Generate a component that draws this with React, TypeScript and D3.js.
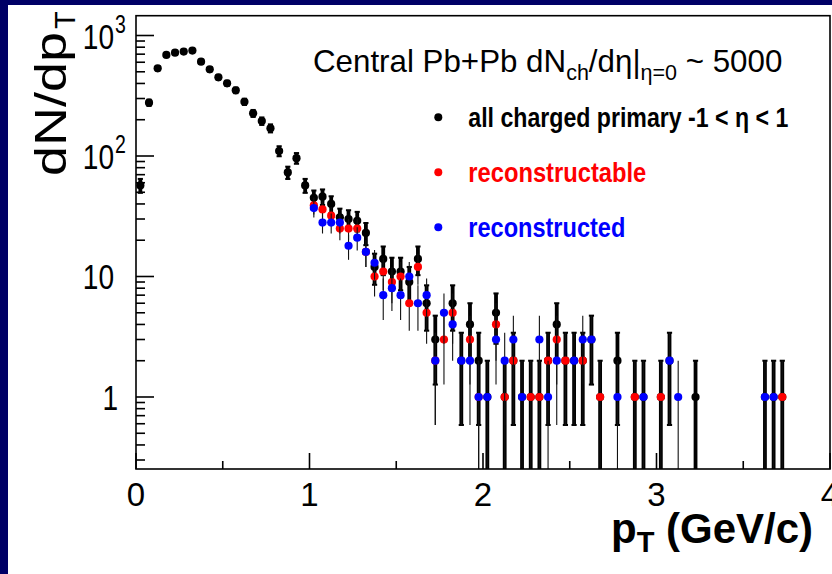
import React from "react";
import * as d3 from "d3";

const W = 832;
const H = 574;

// "all charged primary" (black)
const allPt = [
  0.025, 0.075, 0.125, 0.175, 0.225, 0.275, 0.325, 0.375, 0.425, 0.475,
  0.525, 0.575, 0.625, 0.675, 0.725, 0.775, 0.825, 0.875, 0.925, 0.975,
  1.025, 1.075, 1.125, 1.175, 1.225, 1.275, 1.325, 1.375, 1.425, 1.475,
  1.525, 1.575, 1.625, 1.675, 1.725, 1.825, 1.875, 1.925, 1.975, 2.025,
  2.075, 2.125, 2.175, 2.225, 2.275, 2.325, 2.375, 2.425, 2.475, 2.525,
  2.575, 2.625, 2.675, 2.775, 2.875, 2.925, 3.025, 3.075, 3.225, 3.625,
  3.675, 3.725,
];
const allN = [
  57, 277, 534, 690, 720, 735, 750, 606, 524, 450,
  401, 351, 282, 226, 195, 170, 110, 73, 96, 57,
  45, 46, 40, 31, 30, 29, 23, 12, 14, 11,
  11, 9, 14, 6, 3, 6, 2, 4, 2, 1,
  5, 1, 2, 1, 1, 1, 2, 4, 2, 2,
  2, 3, 1, 2, 1, 1, 1, 2, 1, 1,
  1, 1,
];

// "reconstructable" (red)
const recoablePt = [
  1.025, 1.075, 1.125, 1.175, 1.225, 1.275, 1.325, 1.375, 1.425, 1.475,
  1.525, 1.575, 1.625, 1.675, 1.725, 1.775, 1.825, 1.925, 1.975, 2.075,
  2.125, 2.175, 2.275, 2.325, 2.375, 2.425, 2.475, 2.575, 2.675, 2.875,
  3.025, 3.725,
];
const recoableN = [
  39, 36, 32, 25, 25, 25, 16, 10, 11, 9,
  10, 6, 12, 5, 2, 3, 5, 3, 1, 4,
  1, 2, 1, 1, 2, 3, 2, 2, 1, 1,
  1, 1,
];

// "reconstructed" (blue)
const recoPt = [
  1.025, 1.075, 1.125, 1.175, 1.225, 1.275, 1.325, 1.375, 1.425, 1.475,
  1.525, 1.575, 1.625, 1.675, 1.725, 1.775, 1.825, 1.875, 1.925, 1.975,
  2.025, 2.075, 2.125, 2.175, 2.225, 2.325, 2.375, 2.425, 2.525, 2.575,
  2.625, 2.775, 2.925, 3.075, 3.125, 3.625, 3.675,
];
const recoN = [
  37, 28, 28, 28, 18, 21, 16, 13, 7, 8,
  7, 10, 6, 7, 2, 5, 4, 2, 2, 1,
  1, 3, 2, 3, 1, 3, 1, 2, 2, 3,
  3, 1, 1, 2, 1, 1, 1,
];

const xMajorTicks = [0, 1, 2, 3, 4];
const xMinorTicks = [0.5, 1.5, 2.5, 3.5];
const xTickLabels = ["0", "1", "2", "3", "4"];
const yMajorTicks = [1, 10, 100, 1000];
const yMajorBase = ["1", "10", "10", "10"];
const yMajorExp = ["", "", "2", "3"];
const yMinorTicks = [
  0.3, 0.4, 0.5, 0.6, 0.7, 0.8, 0.9,
  2, 3, 4, 5, 6, 7, 8, 9,
  20, 30, 40, 50, 60, 70, 80, 90,
  200, 300, 400, 500, 600, 700, 800, 900,
];

const legendLabels = ["all charged primary -1 < \u03b7 < 1", "reconstructable", "reconstructed"];
const legendColors = ["#000000", "#ff0000", "#0000ff"];
const legendWidths = [320, 178, 157];

const FONT = "'Liberation Sans', Arial, Helvetica, sans-serif";

export default function App() {
  const left = 136, right = 830, top = 15.7, bottom = 469;
  const x = d3.scaleLinear().domain([0, 4]).range([left, right]);
  const yMin = 0.2526;
  const y = d3.scaleLog().domain([yMin, 1460]).range([bottom, top]);

  const series = [
    { pts: allPt, ns: allN, color: "#000000", thick: true },
    { pts: recoablePt, ns: recoableN, color: "#ff0000", thick: false },
    { pts: recoPt, ns: recoN, color: "#0000ff", thick: false },
  ];

  const errY = (v: number) => (v > yMin ? y(v) : bottom + 10);

  return (
    <svg
      width={W}
      height={H}
      viewBox={`0 0 ${W} ${H}`}
      style={{ position: "absolute", left: 0, top: 0, display: "block" }}
      fontFamily={FONT}
    >
      <defs>
        <clipPath id="plotClip">
          <rect x={left} y={top} width={right - left} height={bottom - top} />
        </clipPath>
      </defs>
      <rect x={0} y={0} width={W} height={H} fill="#000066" />
      <rect x={8} y={5} width={W - 8} height={H - 5} fill="#ffffff" />

      {/* data */}
      <g clipPath="url(#plotClip)">
        {series.map((s, si) => (
          <g key={si}>
            {s.pts.map((p, i) => {
              const n = s.ns[i];
              const e = Math.sqrt(n);
              const cx = x(p);
              const yHi = y(n + e);
              const yLo = errY(n - e);
              if (s.thick) {
                return (
                  <g key={i}>
                    <rect x={cx - 1.9} y={yHi} width={3.8} height={yLo - yHi} fill="#000" />
                    <rect x={cx - 2.6} y={yHi - 1} width={5.2} height={2} fill="#000" />
                    <rect x={cx - 2.6} y={yLo - 1} width={5.2} height={2} fill="#000" />
                  </g>
                );
              }
              return (
                <line key={i} x1={cx} x2={cx} y1={yHi} y2={yLo} stroke="#111" strokeWidth={1.1} />
              );
            })}
            {s.pts.map((p, i) => (
              <circle key={"m" + i} cx={x(p)} cy={y(s.ns[i])} r={4.1} fill={s.color} />
            ))}
          </g>
        ))}
      </g>

      {/* frame */}
      <rect x={left} y={top} width={right - left} height={bottom - top} fill="none" stroke="#000" strokeWidth={1.6} />

      {/* y ticks */}
      {yMajorTicks.map((t) => (
        <line key={"ym" + t} x1={left} x2={left + 18} y1={y(t)} y2={y(t)} stroke="#000" strokeWidth={1.6} />
      ))}
      {yMinorTicks.map((t) => (
        <line key={"yn" + t} x1={left} x2={left + 9} y1={y(t)} y2={y(t)} stroke="#000" strokeWidth={1.6} />
      ))}
      {/* x ticks */}
      {xMajorTicks.map((t) => (
        <line key={"xm" + t} x1={x(t)} x2={x(t)} y1={bottom} y2={bottom - 16} stroke="#000" strokeWidth={1.6} />
      ))}
      {xMinorTicks.map((t) => (
        <line key={"xn" + t} x1={x(t)} x2={x(t)} y1={bottom} y2={bottom - 8} stroke="#000" strokeWidth={1.6} />
      ))}

      {/* y tick labels */}
      {yMajorTicks.map((t, i) => (
        <g key={"yl" + t}>
          <text
            transform={`translate(${yMajorBase[i] === "1" ? 118 : 114},${y(t) + 13}) scale(0.78,1)`}
            fontSize={36}
            textAnchor="end"
            fill="#000"
          >
            {yMajorBase[i]}
          </text>
          {yMajorExp[i] && (
            <text
              transform={`translate(115,${y(t) - 3}) scale(0.78,1)`}
              fontSize={25}
              textAnchor="start"
              fill="#000"
            >
              {yMajorExp[i]}
            </text>
          )}
        </g>
      ))}

      {/* x tick labels */}
      {xMajorTicks.map((t, i) => (
        <text key={"xl" + t} x={x(t)} y={506} fontSize={33} textAnchor="middle" fill="#000">
          {xTickLabels[i]}
        </text>
      ))}

      {/* axis titles */}
      <text x={611} y={543} fontSize={42} fontWeight="bold" fill="#000">
        p
        <tspan fontSize={29} dy={9}>T</tspan>
        <tspan dy={-9}> (GeV/c)</tspan>
      </text>
      <text
        transform="translate(66,176) rotate(-90)"
        fontSize={44}
        textLength={144}
        lengthAdjust="spacingAndGlyphs"
        fill="#000"
      >
        dN/dp
      </text>
      <text transform="translate(75,29) rotate(-90)" fontSize={29} fill="#000">
        T
      </text>

      {/* title */}
      <text x={313} y={71.7} fontSize={31.3} fill="#000">
        Central Pb+Pb dN
        <tspan fontSize={21.5} dy={8}>ch</tspan>
        <tspan dy={-8}>/d{"\u03b7"}|</tspan>
        <tspan fontSize={21.5} dy={8}>{"\u03b7=0"}</tspan>
        <tspan dy={-8}> ~ 5000</tspan>
      </text>

      {/* legend */}
      {legendLabels.map((lab, i) => {
        const cy = 117.3 + i * 55;
        return (
          <g key={"lg" + i}>
            <circle cx={438.3} cy={cy} r={4} fill={legendColors[i]} />
            <text
              x={468.3}
              y={cy + 9.4}
              fontSize={27}
              fontWeight="bold"
              fill={legendColors[i]}
              textLength={legendWidths[i]}
              lengthAdjust="spacingAndGlyphs"
            >
              {lab}
            </text>
          </g>
        );
      })}
    </svg>
  );
}
